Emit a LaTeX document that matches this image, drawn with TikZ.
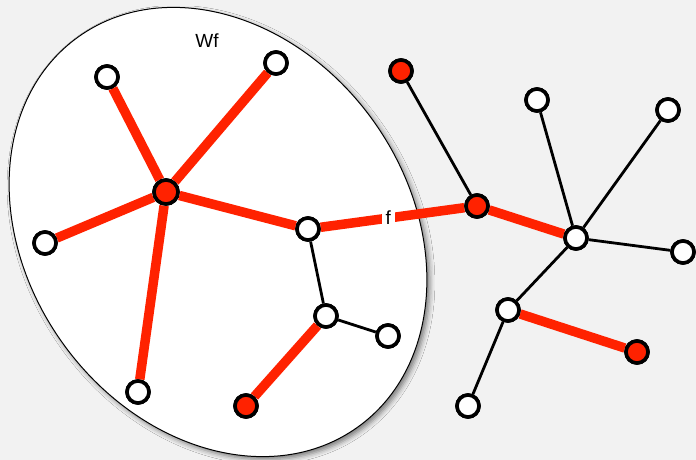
\documentclass[tikz,border=0pt]{standalone}
\usepackage{fontspec}
\setmainfont{Liberation Sans}
\usetikzlibrary{shadows.blur}
\definecolor{bg}{HTML}{F2F2F2}
\definecolor{hot}{HTML}{FF2200}
\begin{document}
\begin{tikzpicture}[x=1pt,y=-1pt,
  vw/.style={circle,draw=black,line width=3.6pt,fill=white,minimum size=22pt,inner sep=0pt},
  vr/.style={vw,fill=hot},
  vh/.style={vw,fill=hot,minimum size=24pt},
  redge/.style={draw=hot,line width=9.5pt},
  bedge/.style={draw=black,line width=2.8pt},
  lbl/.style={font=\fontsize{19}{21}\selectfont,inner sep=1pt}]
\fill[bg] (0,0) rectangle (696,460);
\useasboundingbox (0,0) rectangle (696,460);
\path[draw=black,line width=1pt,fill=white,blur shadow={shadow xshift=3pt,shadow yshift=-3pt,shadow blur radius=5pt,shadow opacity=50}]
  (218,232) ellipse[x radius=240,y radius=191,rotate=-54.4];
\node[lbl] (wf) at (207,41) {Wf};
% nodes
\node[vw] (A) at (107,77) {};
\node[vw] (B) at (276,63) {};
\node[vh] (C) at (166,192) {};
\node[vw] (D) at (45,243) {};
\node[vw] (E) at (138,392) {};
\node[vw] (F) at (308,229) {};
\node[vw] (G) at (326,316) {};
\node[vw] (H) at (388,336) {};
\node[vr] (I) at (246,406) {};
\node[vr] (J) at (401,71) {};
\node[vr] (K) at (477,206) {};
\node[vw] (L) at (537,100) {};
\node[vw] (M) at (668,110) {};
\node[vw] (N) at (576,238) {};
\node[vw] (O) at (683,252) {};
\node[vw] (P) at (508,310) {};
\node[vr] (Q) at (637,352) {};
\node[vw] (R) at (468,406) {};
% edges
\path[redge] (C) -- (A);
\path[redge] (C) -- (B);
\path[redge] (C) -- (D);
\path[redge] (C) -- (E);
\path[redge] (C) -- (F);
\path[redge] (F) -- node[lbl,fill=white,inner xsep=4pt,pos=0.47] (flab) {f} (K);
\path[redge] (K) -- (N);
\path[redge] (G) -- (I);
\path[redge] (P) -- (Q);
\path[bedge] (F) -- (G);
\path[bedge] (G) -- (H);
\path[bedge] (J) -- (K);
\path[bedge] (N) -- (L);
\path[bedge] (N) -- (M);
\path[bedge] (N) -- (O);
\path[bedge] (N) -- (P);
\path[bedge] (P) -- (R);
% redraw nodes on top
\foreach \n/\s in {A/vw,B/vw,C/vh,D/vw,E/vw,F/vw,G/vw,H/vw,I/vr,J/vr,K/vr,L/vw,M/vw,N/vw,O/vw,P/vw,Q/vr,R/vw}
  \node[\s] at (\n) {};
\node[lbl,fill=white,inner xsep=4pt] at (flab) {f};
\end{tikzpicture}
\end{document}
